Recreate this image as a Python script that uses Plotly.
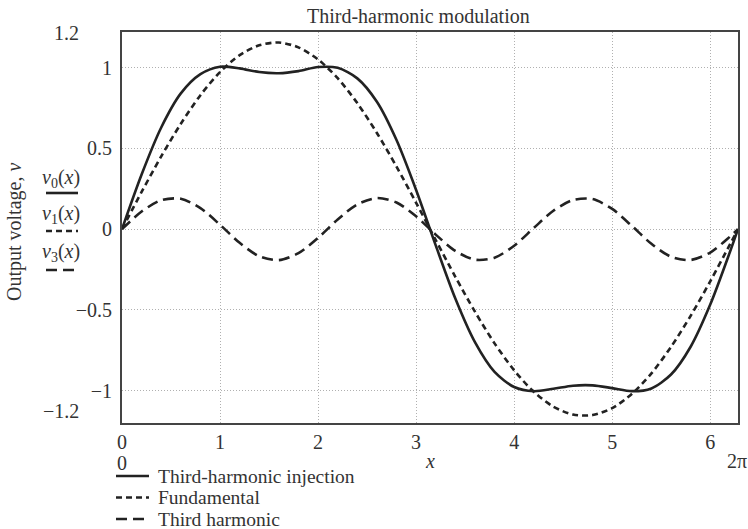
import plotly.graph_objects as go

# Sample points (x in radians)
x_vals = [0.0, 0.2, 0.4, 0.6, 0.8, 1.0, 1.2, 1.4, 1.6, 1.8, 2.0, 2.2, 2.4, 2.6, 2.8, 3.0,
          3.2, 3.4, 3.6, 3.8, 4.0, 4.2, 4.4, 4.6, 4.8, 5.0, 5.2, 5.4, 5.6, 5.8, 6.0, 6.2, 6.283]
v0_injection = [0.0, 0.338, 0.629, 0.840, 0.959, 1.005, 0.995, 0.972, 0.965, 0.978, 1.003,
                0.998, 0.933, 0.788, 0.551, 0.242, -0.101, -0.430, -0.700, -0.884, -0.977,
                -1.003, -0.988, -0.969, -0.967, -0.984, -1.003, -0.986, -0.900, -0.728,
                -0.467, -0.143, 0.0]
v1_fundamental = [0.0, 0.230, 0.450, 0.652, 0.829, 0.972, 1.077, 1.138, 1.155, 1.125, 1.050,
                  0.934, 0.780, 0.595, 0.387, 0.163, -0.068, -0.295, -0.511, -0.707, -0.874,
                  -1.007, -1.099, -1.148, -1.151, -1.108, -1.020, -0.893, -0.729, -0.537,
                  -0.323, -0.096, 0.0]
v3_third = [0.0, 0.109, 0.179, 0.188, 0.130, 0.027, -0.085, -0.168, -0.192, -0.149, -0.054,
            0.060, 0.153, 0.192, 0.165, 0.079, -0.034, -0.135, -0.189, -0.177, -0.103,
            0.007, 0.114, 0.180, 0.186, 0.125, 0.020, -0.091, -0.171, -0.191, -0.145,
            -0.047, 0.0]

x_ticks = [0, 1, 2, 3, 4, 5, 6]
y_ticks = [-1, -0.5, 0, 0.5, 1]
y_ticktext = ["\u22121", "\u22120.5", "0", "0.5", "1"]

series_names = ["Third-harmonic injection", "Fundamental", "Third harmonic"]
series_dash = ["solid", "6px,4px", "11px,6px"]
side_labels = ["<i>v</i><sub>0</sub>(<i>x</i>)", "<i>v</i><sub>1</sub>(<i>x</i>)",
               "<i>v</i><sub>3</sub>(<i>x</i>)"]

FONT = "Liberation Serif"
FS = 20
TXT = "#333333"
LINE = "#222222"

W, H = 748, 529
L, R, T, B = 122, 10, 32, 106
PW, PH = W - L - R, H - T - B


def px(p):
    return (p - L) / PW


def py(p):
    return (H - B - p) / PH


fig = go.Figure()
for yv, name, dash in zip([v0_injection, v1_fundamental, v3_third], series_names, series_dash):
    fig.add_trace(go.Scatter(x=x_vals, y=yv, mode="lines", name=name,
                             line=dict(color=LINE, width=2.6, dash=dash, shape="spline",
                                       smoothing=0.8),
                             showlegend=False))

fig.update_layout(
    width=W, height=H,
    margin=dict(l=L, r=R, t=T, b=B, autoexpand=False),
    paper_bgcolor="white", plot_bgcolor="white",
    font=dict(family=FONT, size=FS, color=TXT),
    xaxis=dict(range=[0, 6.2832], tickvals=x_ticks, ticks="", showgrid=True,
               gridcolor="#b0b0b0", griddash="1px,2px", gridwidth=1, zeroline=False,
               showline=True, mirror=True, linecolor="#444444", linewidth=2,
               tickfont=dict(family=FONT, size=FS, color=TXT)),
    yaxis=dict(range=[-1.2, 1.22], tickvals=y_ticks, ticktext=y_ticktext, ticks="",
               showgrid=True, gridcolor="#b0b0b0", griddash="1px,2px", gridwidth=1,
               zeroline=False, showline=True, mirror=True, linecolor="#444444",
               linewidth=2, tickfont=dict(family=FONT, size=FS, color=TXT),
               ticklabelstandoff=4),
)

def text_ann(x, y, text, xanchor="center", angle=0, size=FS):
    return dict(x=px(x), y=py(y), xref="paper", yref="paper", text=text, showarrow=False,
                xanchor=xanchor, yanchor="middle", textangle=angle,
                font=dict(family=FONT, size=size, color=TXT))


ann = []
ann.append(text_ann(418, 16, "Third-harmonic modulation"))
ann.append(text_ann(81, 33, "1.2", "right"))
ann.append(text_ann(81, 411, "\u22121.2", "right"))
ann.append(text_ann(15, 232, "Output voltage, <i>v</i>", angle=-90))
ann.append(text_ann(122, 463, "0"))
ann.append(text_ann(430, 461, "<i>x</i>"))
ann.append(text_ann(737, 461, "2\u03c0"))

shapes = []
side_text_y = [178, 215, 252]
side_line_y = [193, 231, 270]
for lab, ty, ly, dash in zip(side_labels, side_text_y, side_line_y, series_dash):
    ann.append(text_ann(61, ty, lab))
    shapes.append(dict(type="line", xref="paper", yref="paper", x0=px(46), x1=px(78),
                       y0=py(ly), y1=py(ly), line=dict(color=LINE, width=2.6, dash=dash)))

leg_y = [476, 497.5, 519]
for name, ly, dash in zip(series_names, leg_y, series_dash):
    shapes.append(dict(type="line", xref="paper", yref="paper", x0=px(116), x1=px(149),
                       y0=py(ly), y1=py(ly), line=dict(color=LINE, width=2.6, dash=dash)))
    ann.append(text_ann(156, ly, name, "left", size=19.5))

fig.update_layout(annotations=ann, shapes=shapes)
fig.write_html("out.html")
